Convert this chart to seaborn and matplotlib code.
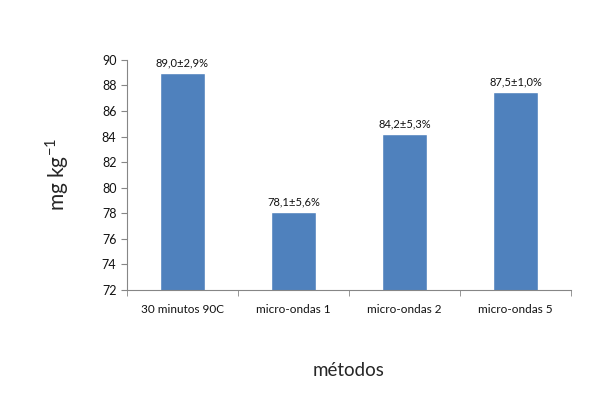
import pandas as pd
import seaborn as sns
import matplotlib.pyplot as plt

metodos = ["30 minutos 90C", "micro-ondas 1", "micro-ondas 2", "micro-ondas 5"]
valores = [89.0, 78.1, 84.2, 87.5]
rotulos = ["89,0±2,9%", "78,1±5,6%", "84,2±5,3%", "87,5±1,0%"]
y_ticks = [72, 74, 76, 78, 80, 82, 84, 86, 88, 90]

df = pd.DataFrame({"metodo": metodos, "valor": valores})

sns.set_style("white")
plt.rcParams["font.family"] = ["Lato", "DejaVu Sans"]

fig = plt.figure(figsize=(6.1, 3.99), dpi=100)
ax = fig.add_axes([0.208, 0.273, 0.728, 0.577])

sns.barplot(data=df, x="metodo", y="valor", color="#4F81BD", width=0.4,
            saturation=1, ax=ax)

for i, (v, t) in enumerate(zip(valores, rotulos)):
    ax.text(i, v + 0.35, t, ha="center", va="bottom", fontsize=8, color="#111111")

ax.set_ylim(72, 90)
ax.set_yticks(y_ticks)
ax.set_xlim(-0.5, 3.5)
ax.set_xticks(range(4))
ax.set_xticks([-0.5, 0.5, 1.5, 2.5, 3.5], minor=True)
ax.tick_params(axis="x", which="major", length=0, pad=10, labelsize=8.5, labelcolor="#111111")
ax.tick_params(axis="x", which="minor", length=4, color="#868686", direction="out", bottom=True)
ax.tick_params(axis="y", length=4, color="#868686", direction="out", left=True,
               labelsize=9, labelcolor="#111111")

for s in ["top", "right"]:
    ax.spines[s].set_visible(False)
for s in ["left", "bottom"]:
    ax.spines[s].set_color("#868686")
    ax.spines[s].set_linewidth(0.8)

ax.set_xlabel("métodos", fontsize=13.5, labelpad=34)
ax.set_ylabel("mg kg$^{\\mathregular{-1}}$", fontsize=15, labelpad=22)

fig.savefig("out.png", dpi=100)
